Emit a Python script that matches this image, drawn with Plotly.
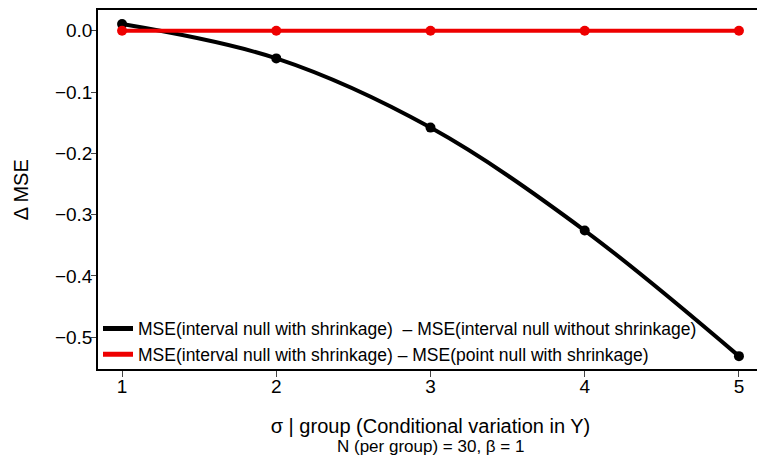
import plotly.graph_objects as go

sigma = [1, 2, 3, 4, 5]
diff_no_shrink = [0.011, -0.045, -0.158, -0.326, -0.531]
diff_point_null = [0.0, 0.0, 0.0, 0.0, 0.0]

label_black = "MSE(interval null with shrinkage)&nbsp; – MSE(interval null without shrinkage)"
label_red = "MSE(interval null with shrinkage) – MSE(point null with shrinkage)"

fnt = "Liberation Sans, Arial, sans-serif"

fig = go.Figure()
fig.add_trace(go.Scatter(x=sigma, y=diff_no_shrink, mode="lines+markers",
                         line=dict(color="black", width=4, shape="spline", smoothing=1.0),
                         marker=dict(color="black", size=10), showlegend=False))
fig.add_trace(go.Scatter(x=sigma, y=diff_point_null, mode="lines+markers",
                         line=dict(color="#ee0000", width=4),
                         marker=dict(color="#ee0000", size=10), showlegend=False))
# legend entries (lines only)
fig.add_trace(go.Scatter(x=[None], y=[None], mode="lines", name=label_black,
                         line=dict(color="black", width=5)))
fig.add_trace(go.Scatter(x=[None], y=[None], mode="lines", name=label_red,
                         line=dict(color="#ee0000", width=5)))

# page body adds an 8px offset, so the figure is a bit smaller than the window
fig.update_layout(
    width=757, height=458,
    margin=dict(l=90, r=2, t=0, b=97),
    plot_bgcolor="white", paper_bgcolor="white",
    font=dict(family=fnt, color="black", size=17),
    legend=dict(x=0.0, y=-0.01, xanchor="left", yanchor="bottom",
                bgcolor="rgba(0,0,0,0)", font=dict(size=17.5), tracegroupgap=0),
    xaxis=dict(range=[0.844, 5.156], tickvals=sigma, ticks="outside", ticklen=6,
               ticklabelstandoff=-7,
               showgrid=False, zeroline=False, showline=True, mirror=True,
               linecolor="black", linewidth=1.5, tickfont=dict(size=19),
               title=dict(text="σ | group (Conditional variation in Y)", font=dict(size=20),
                          standoff=23)),
    yaxis=dict(range=[-0.552, 0.034], tickvals=[0, -0.1, -0.2, -0.3, -0.4, -0.5],
               ticktext=["0.0", "−0.1", "−0.2", "−0.3", "−0.4", "−0.5"],
               ticks="outside", ticklen=5, ticklabelstandoff=-5,
               showline=True, mirror=True, linecolor="black", linewidth=1.5,
               showgrid=False, zeroline=False,
               tickfont=dict(size=19)),
)
fig.add_annotation(text="Δ MSE", xref="paper", yref="paper", x=-0.116, y=0.5,
                   xanchor="center", yanchor="middle", textangle=-90,
                   showarrow=False, font=dict(size=20))
fig.add_annotation(text="N (per group) = 30, β = 1", xref="paper", yref="paper",
                   x=0.5, y=-0.215, xanchor="center", yanchor="middle",
                   showarrow=False, font=dict(size=17))

fig.write_html("out.html")
